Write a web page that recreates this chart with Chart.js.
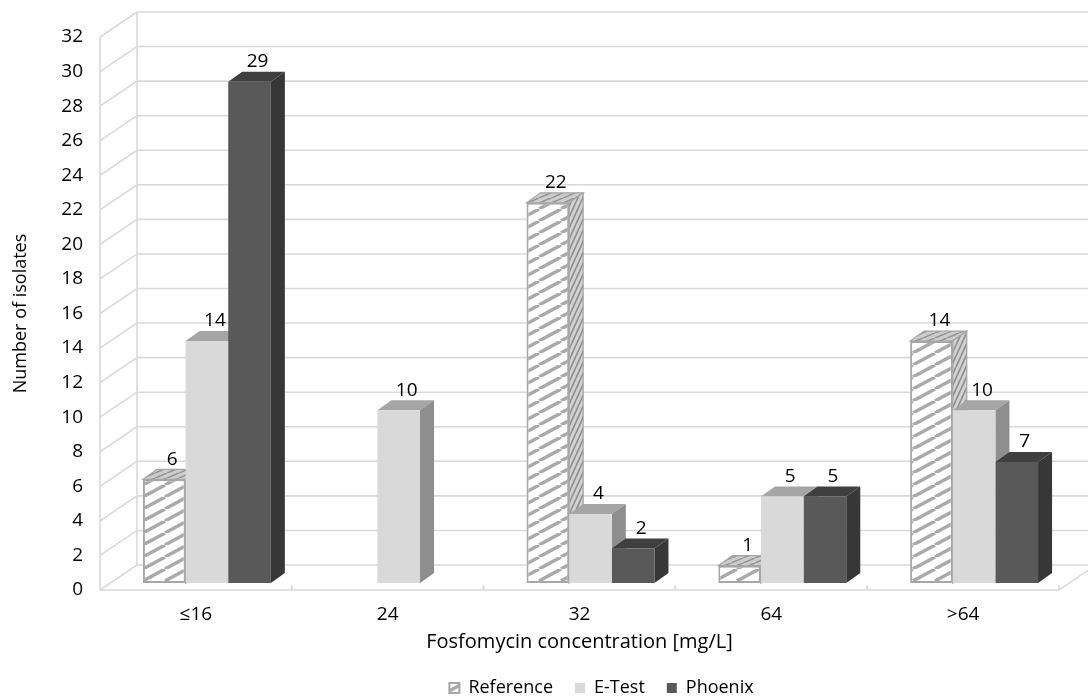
<!DOCTYPE html>
<html>
<head>
<meta charset="utf-8">
<script src="https://cdn.jsdelivr.net/npm/chart.js@4.4.1/dist/chart.umd.min.js"></script>
<style>
  html, body { margin: 0; padding: 0; background: #ffffff; }
  #chart { display: block; }
</style>
</head>
<body>
<canvas id="chart" width="1088" height="700"></canvas>
<script>
// Isolate counts per fosfomycin MIC category, one array per method
const categories      = ['≤16', '24', '32', '64', '>64'];
const referenceCounts = [6, 0, 22, 1, 14];
const etestCounts     = [14, 10, 4, 5, 10];
const phoenixCounts   = [29, 0, 2, 5, 7];
const seriesNames     = ['Reference', 'E-Test', 'Phoenix'];

// Value axis range
const yMin = 0;
const yMax = 32;
const yStep = 2;

// Pseudo-3D geometry (pixels)
const WALL = { dx: 37, dy: -25 };       // depth of the back wall
const BAR_SHIFT = { dx: 11, dy: -7 };   // bars sit a little behind the front edge
const BAR_DEPTH = { dx: 14, dy: -10 };  // depth of each bar
const GRID_COLOR = '#d9d9d9';
const TEXT_COLOR = '#000000';
const FONT_FAMILY = '"Open Sans", "DejaVu Sans", sans-serif';
const PAD_BOTTOM = -7;

function hatch(w, h, bg, fg, lw) {
  const c = document.createElement('canvas');
  c.width = w; c.height = h;
  const g = c.getContext('2d');
  g.fillStyle = bg;
  g.fillRect(0, 0, w, h);
  g.strokeStyle = fg;
  g.lineWidth = lw;
  for (const o of [-1, 0, 1]) {
    g.beginPath();
    g.moveTo(o * w, h);
    g.lineTo(o * w + w, 0);
    g.stroke();
  }
  return g.createPattern(c, 'repeat');
}

const refFront = hatch(22, 12, '#ffffff', '#a9a9a9', 3.4);
const refTop   = hatch(12, 5, '#cdcdcd', '#939393', 1.6);
const refSide  = hatch(5, 11, '#d2d2d2', '#8f8f8f', 1.7);

const faceStyles = [
  { top: refTop, side: refSide, edge: '#a6a6a6' },
  { top: '#a5a5a5', side: '#8e8e8e', edge: null },
  { top: '#3f3f3f', side: '#373737', edge: null }
];

const depthPlugin = {
  id: 'depth3d',
  beforeDatasetsDraw(chart) {
    const { ctx, chartArea: { left, right, top, bottom }, scales: { x, y } } = chart;

    // floor, left wall and back wall
    ctx.save();
    ctx.strokeStyle = GRID_COLOR;
    ctx.lineWidth = 1.6;
    ctx.beginPath();
    y.ticks.forEach(t => {
      const py = y.getPixelForValue(t.value);
      ctx.moveTo(left, py);
      ctx.lineTo(left + WALL.dx, py + WALL.dy);
      ctx.lineTo(right + WALL.dx + 10, py + WALL.dy);
    });
    ctx.moveTo(left, top);
    ctx.lineTo(left, bottom);
    ctx.moveTo(left + WALL.dx, top + WALL.dy);
    ctx.lineTo(left + WALL.dx, bottom + WALL.dy);
    ctx.moveTo(left, bottom);
    ctx.lineTo(right, bottom);
    ctx.lineTo(right + WALL.dx, bottom + WALL.dy);
    const step = (right - left) / categories.length;
    for (let i = 0; i < categories.length; i++) {
      const px = x.getPixelForValue(i) + step / 2;
      ctx.moveTo(px, bottom);
      ctx.lineTo(px, bottom - 5);
    }
    ctx.stroke();
    ctx.restore();

    // top and side faces of the bars, fronts are drawn by Chart.js afterwards
    ctx.save();
    ctx.translate(BAR_SHIFT.dx, BAR_SHIFT.dy);
    chart.data.datasets.forEach((ds, d) => {
      const meta = chart.getDatasetMeta(d);
      const st = faceStyles[d];
      meta.data.forEach((el, i) => {
        if (!ds.data[i]) return;
        const { x: cx, y: ty, base, width } = el.getProps(['x', 'y', 'base', 'width'], true);
        const l = cx - width / 2, r = cx + width / 2;
        ctx.beginPath();
        ctx.moveTo(l, ty);
        ctx.lineTo(r, ty);
        ctx.lineTo(r + BAR_DEPTH.dx, ty + BAR_DEPTH.dy);
        ctx.lineTo(l + BAR_DEPTH.dx, ty + BAR_DEPTH.dy);
        ctx.closePath();
        ctx.fillStyle = st.top;
        ctx.fill();
        if (st.edge) { ctx.strokeStyle = st.edge; ctx.lineWidth = 1.2; ctx.stroke(); }
        ctx.beginPath();
        ctx.moveTo(r, ty);
        ctx.lineTo(r + BAR_DEPTH.dx, ty + BAR_DEPTH.dy);
        ctx.lineTo(r + BAR_DEPTH.dx, base + BAR_DEPTH.dy);
        ctx.lineTo(r, base);
        ctx.closePath();
        ctx.fillStyle = st.side;
        ctx.fill();
        if (st.edge) { ctx.strokeStyle = st.edge; ctx.lineWidth = 1.2; ctx.stroke(); }
      });
    });
  },
  afterDatasetsDraw(chart) {
    const { ctx } = chart;
    ctx.font = '19px ' + FONT_FAMILY;
    ctx.fillStyle = TEXT_COLOR;
    ctx.textAlign = 'center';
    ctx.textBaseline = 'middle';
    chart.data.datasets.forEach((ds, d) => {
      const meta = chart.getDatasetMeta(d);
      meta.data.forEach((el, i) => {
        const v = ds.data[i];
        if (!v) return;
        const { x: cx, y: ty } = el.getProps(['x', 'y'], true);
        ctx.fillText(String(v), cx + BAR_DEPTH.dx / 2 + 1, ty + BAR_DEPTH.dy - 10);
      });
    });
    ctx.restore();
  },
  afterLayout(chart) {
    // centre the legend under the plot including its depth
    if (chart.legend) {
      chart.legend.left += 72;
      chart.legend.right += 72;
    }
  }
};

const tickFont = { family: FONT_FAMILY, size: 19 };

new Chart(document.getElementById('chart'), {
  type: 'bar',
  data: {
    labels: categories,
    datasets: [
      {
        label: seriesNames[0],
        data: referenceCounts.map(v => v || null),
        backgroundColor: refFront,
        borderColor: '#a6a6a6',
        borderWidth: 2,
        borderSkipped: false
      },
      {
        label: seriesNames[1],
        data: etestCounts.map(v => v || null),
        backgroundColor: '#d9d9d9',
        borderWidth: 0
      },
      {
        label: seriesNames[2],
        data: phoenixCounts.map(v => v || null),
        backgroundColor: '#595959',
        borderWidth: 0
      }
    ]
  },
  options: {
    responsive: false,
    animation: false,
    devicePixelRatio: 1,
    datasets: { bar: { categoryPercentage: 0.667, barPercentage: 1, clip: false } },
    layout: { padding: { top: 37, right: 29, left: 0, bottom: PAD_BOTTOM } },
    plugins: {
      legend: {
        position: 'bottom',
        labels: {
          font: { family: FONT_FAMILY, size: 18 },
          color: TEXT_COLOR,
          boxWidth: 10,
          boxHeight: 10,
          padding: 22
        }
      },
      tooltip: { enabled: false }
    },
    scales: {
      x: {
        grid: { display: false, drawTicks: false },
        border: { display: false },
        ticks: { font: tickFont, color: TEXT_COLOR, padding: 13, maxRotation: 0 },
        title: {
          display: true,
          text: 'Fosfomycin concentration [mg/L]',
          font: { family: FONT_FAMILY, size: 20 },
          color: TEXT_COLOR,
          padding: { top: 0, bottom: 3 }
        },
        afterFit(scale) {
          const lh = scale.chart.legend ? scale.chart.legend.height : 0;
          scale.height = 700 - 590 - lh - PAD_BOTTOM;
        }
      },
      y: {
        min: yMin,
        max: yMax,
        grid: { display: false, drawTicks: false },
        border: { display: false },
        ticks: { stepSize: yStep, font: tickFont, color: TEXT_COLOR, padding: 17 },
        title: {
          display: true,
          text: 'Number of isolates',
          font: { family: FONT_FAMILY, size: 18 },
          color: TEXT_COLOR,
          padding: { top: 10, bottom: 0 }
        },
        afterFit(scale) { scale.width = 100; }
      }
    }
  },
  plugins: [depthPlugin]
});
</script>
</body>
</html>
